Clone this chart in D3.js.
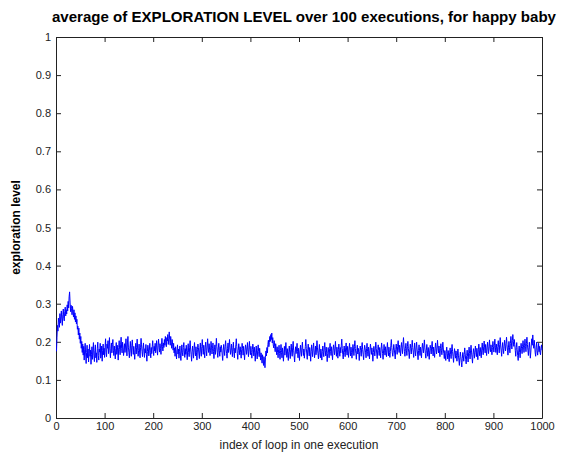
<!DOCTYPE html>
<html>
<head>
<meta charset="utf-8">
<script src="https://cdn.jsdelivr.net/npm/d3@7"></script>
<style>
  body { margin: 0; background: #fff; }
  svg { display: block; font-family: "Liberation Sans", Arial, sans-serif; }
</style>
</head>
<body>
<svg id="chart"></svg>
<script>
// average exploration level per loop index (1..1000)
var exploration = [
  .175,.212,.243,.228,.262,.251,.238,.274,.249,.266,.281,.257,.243,.271,.286,.262,.255,.279,.291,.268,
  .284,.273,.297,.281,.306,.289,.318,.331,.302,.279,.296,.287,.271,.293,.278,.265,.284,.259,.276,.252,
  .268,.247,.259,.233,.241,.218,.236,.207,.223,.196,.214,.183,.201,.172,.194,.165,.188,.152,.179,.196,
  .168,.143,.172,.191,.158,.181,.147,.169,.193,.162,.178,.141,.166,.187,.154,.176,.198,.163,.148,.177,
  .192,.158,.171,.146,.183,.199,.164,.152,.181,.173,.196,.157,.168,.189,.149,.177,.194,.166,.183,.159,
  .186,.208,.172,.161,.194,.183,.203,.169,.188,.211,.176,.158,.182,.197,.171,.193,.206,.178,.164,.189,
  .173,.155,.182,.198,.167,.191,.176,.152,.185,.203,.179,.166,.194,.212,.183,.171,.199,.186,.164,.178,
  .195,.172,.189,.208,.181,.163,.197,.214,.186,.171,.158,.183,.201,.176,.162,.191,.205,.184,.167,.188,
  .171,.154,.179,.196,.168,.185,.207,.181,.162,.177,.194,.173,.158,.186,.209,.192,.174,.161,.183,.197,
  .176,.159,.182,.171,.193,.166,.149,.174,.191,.181,.163,.178,.196,.172,.158,.185,.169,.187,.203,.179,
  .164,.188,.176,.196,.171,.184,.203,.178,.165,.191,.207,.186,.173,.195,.182,.167,.192,.209,.188,.176,
  .197,.185,.206,.191,.214,.198,.187,.211,.202,.219,.193,.208,.226,.205,.191,.214,.199,.183,.206,.192,
  .178,.196,.171,.184,.162,.187,.173,.155,.179,.192,.168,.181,.157,.174,.189,.165,.151,.176,.192,.171,
  .163,.185,.198,.176,.159,.182,.167,.191,.174,.153,.178,.195,.172,.161,.186,.203,.181,.166,.149,.174,
  .189,.172,.157,.183,.198,.176,.163,.187,.171,.152,.179,.194,.185,.168,.156,.181,.197,.173,.162,.188,
  .206,.183,.167,.191,.174,.158,.186,.199,.177,.163,.189,.208,.184,.172,.195,.181,.164,.178,.201,.186,
  .168,.183,.197,.174,.156,.179,.192,.167,.185,.209,.188,.171,.159,.184,.196,.177,.162,.187,.173,.191,
  .182,.165,.151,.176,.193,.179,.164,.188,.203,.181,.169,.157,.183,.197,.172,.186,.206,.184,.167,.178,
  .194,.176,.161,.185,.199,.174,.158,.183,.171,.192,.208,.187,.169,.154,.178,.195,.181,.166,.187,.172,
  .157,.179,.196,.183,.165,.188,.171,.153,.176,.192,.184,.167,.181,.198,.175,.161,.184,.201,.179,.166,
  .188,.172,.157,.179,.194,.181,.163,.186,.171,.149,.173,.189,.168,.155,.178,.192,.174,.161,.183,.167,
  .152,.171,.158,.144,.166,.153,.138,.161,.147,.132,.158,.176,.163,.185,.171,.193,.204,.187,.198,.214,
  .201,.219,.206,.223,.197,.211,.192,.184,.203,.188,.174,.195,.181,.166,.187,.172,.158,.179,.191,.169,
  .154,.177,.193,.172,.158,.184,.167,.149,.173,.188,.165,.181,.198,.176,.159,.182,.168,.151,.174,.189,
  .171,.156,.179,.194,.173,.162,.186,.201,.178,.163,.147,.172,.187,.169,.181,.196,.174,.158,.183,.167,
  .151,.176,.191,.173,.162,.185,.199,.178,.164,.181,.157,.172,.188,.206,.183,.168,.154,.179,.194,.176,
  .163,.185,.171,.149,.174,.192,.178,.161,.183,.197,.176,.158,.172,.189,.166,.181,.203,.184,.169,.155,
  .176,.193,.172,.158,.181,.168,.152,.175,.189,.173,.161,.184,.198,.177,.163,.186,.171,.148,.169,.185,
  .173,.158,.182,.196,.175,.164,.187,.169,.153,.178,.192,.181,.166,.183,.201,.179,.162,.186,.173,.157,
  .179,.194,.176,.162,.185,.171,.191,.207,.183,.167,.155,.178,.189,.172,.161,.184,.197,.176,.165,.188,
  .174,.159,.181,.196,.178,.163,.186,.172,.157,.176,.193,.181,.164,.187,.203,.182,.169,.154,.177,.191,
  .168,.183,.172,.151,.174,.189,.177,.162,.185,.198,.179,.166,.153,.176,.191,.184,.171,.158,.182,.196,
  .175,.162,.186,.173,.155,.178,.194,.181,.167,.184,.171,.149,.172,.188,.176,.163,.181,.199,.183,.168,
  .156,.179,.192,.177,.164,.185,.172,.158,.181,.197,.183,.169,.154,.176,.193,.178,.165,.187,.172,.161,
  .183,.198,.176,.163,.186,.172,.159,.174,.191,.206,.185,.171,.162,.178,.193,.181,.168,.155,.179,.194,
  .181,.167,.188,.203,.184,.172,.191,.176,.163,.185,.198,.182,.169,.193,.211,.189,.174,.162,.183,.196,
  .178,.164,.187,.201,.183,.171,.156,.179,.194,.182,.168,.186,.204,.185,.173,.159,.181,.197,.176,.163,
  .184,.199,.181,.168,.153,.177,.192,.178,.164,.186,.172,.158,.181,.196,.183,.171,.189,.205,.184,.169,
  .157,.178,.193,.176,.162,.185,.171,.154,.176,.191,.182,.168,.187,.201,.179,.163,.186,.173,.159,.182,
  .197,.181,.168,.186,.204,.183,.171,.189,.176,.161,.183,.195,.178,.166,.184,.199,.181,.169,.156,.177,
  .165,.151,.174,.186,.169,.155,.177,.163,.148,.171,.184,.167,.156,.179,.193,.174,.161,.146,.168,.182,
  .171,.157,.176,.164,.149,.168,.181,.165,.152,.138,.159,.173,.161,.146,.134,.157,.172,.163,.149,.167,
  .184,.168,.153,.142,.164,.178,.161,.147,.171,.186,.169,.155,.176,.191,.173,.158,.144,.167,.182,.171,
  .157,.176,.189,.172,.161,.183,.168,.153,.179,.194,.176,.163,.185,.171,.158,.181,.197,.178,.166,.187,
  .202,.184,.171,.193,.178,.164,.186,.199,.181,.169,.188,.205,.183,.174,.192,.179,.166,.185,.201,.187,
  .173,.191,.207,.186,.172,.194,.181,.166,.188,.203,.185,.171,.193,.211,.189,.176,.162,.184,.198,.182,
  .169,.187,.204,.191,.176,.195,.212,.193,.178,.165,.186,.201,.184,.171,.196,.214,.197,.181,.203,.219,
  .201,.188,.206,.193,.177,.162,.185,.198,.179,.164,.151,.176,.189,.172,.158,.181,.196,.183,.169,.188,
  .203,.186,.172,.191,.207,.188,.174,.196,.212,.193,.178,.164,.185,.199,.181,.157,.173,.194,.208,.191,
  .218,.196,.183,.204,.189,.171,.162,.186,.199,.177,.165,.181,.196,.174,.188,.171,.166,.183,.192,.178
];

var xTicks = [0, 100, 200, 300, 400, 500, 600, 700, 800, 900, 1000];
var yTicks = [0, 0.1, 0.2, 0.3, 0.4, 0.5, 0.6, 0.7, 0.8, 0.9, 1];

var titleText = "average of EXPLORATION LEVEL over 100 executions, for happy baby";
var xLabel = "index of loop in one execution";
var yLabel = "exploration level";

var width = 562, height = 452;
var margin = {top: 37, right: 20, bottom: 34, left: 56};

var svg = d3.select("#chart")
    .attr("width", width)
    .attr("height", height);

var x = d3.scaleLinear()
    .domain([0, 1000])
    .range([margin.left, width - margin.right]);

var y = d3.scaleLinear()
    .domain([0, 1])
    .range([height - margin.bottom, margin.top]);

// axes, matlab style: ticks inside, mirrored on top/right
var tickLen = 5;
svg.append("g")
    .attr("transform", "translate(0," + y(0) + ")")
    .call(d3.axisBottom(x).tickValues(xTicks).tickSizeInner(-tickLen).tickSizeOuter(0).tickPadding(4)
        .tickFormat(d3.format("d")));
svg.append("g")
    .attr("transform", "translate(0," + y(1) + ")")
    .call(d3.axisTop(x).tickValues(xTicks).tickSizeInner(-tickLen).tickSizeOuter(0).tickFormat(""));
svg.append("g")
    .attr("transform", "translate(" + x(0) + ",0)")
    .call(d3.axisLeft(y).tickValues(yTicks).tickSizeInner(-tickLen).tickSizeOuter(0).tickPadding(5)
        .tickFormat(function (d) { return String(+d.toFixed(1)); }));
svg.append("g")
    .attr("transform", "translate(" + x(1000) + ",0)")
    .call(d3.axisRight(y).tickValues(yTicks).tickSizeInner(-tickLen).tickSizeOuter(0).tickFormat(""));

svg.selectAll(".domain").attr("stroke", "#222");
svg.selectAll(".tick line").attr("stroke", "#222");
svg.selectAll(".tick text")
    .attr("fill", "#222")
    .style("font-size", "11px")
    .style("font-family", "'Liberation Sans', Arial, sans-serif");

// the series
var line = d3.line()
    .x(function (d, i) { return x(i + 1); })
    .y(function (d) { return y(d); });

svg.append("path")
    .datum(exploration)
    .attr("d", line)
    .attr("fill", "none")
    .attr("stroke", "#0000ff")
    .attr("stroke-width", 1);

// texts
svg.append("text")
    .attr("x", 304)
    .attr("y", 22)
    .attr("text-anchor", "middle")
    .attr("textLength", 504)
    .attr("lengthAdjust", "spacingAndGlyphs")
    .style("font-size", "15px")
    .style("font-weight", "bold")
    .text(titleText);

svg.append("text")
    .attr("x", (x(0) + x(1000)) / 2)
    .attr("y", 449)
    .attr("text-anchor", "middle")
    .style("font-size", "12px")
    .attr("fill", "#222")
    .text(xLabel);

svg.append("text")
    .attr("transform", "translate(20," + ((y(0) + y(1)) / 2) + ") rotate(-90)")
    .attr("text-anchor", "middle")
    .style("font-size", "12px")
    .style("font-weight", "bold")
    .text(yLabel);
</script>
</body>
</html>
